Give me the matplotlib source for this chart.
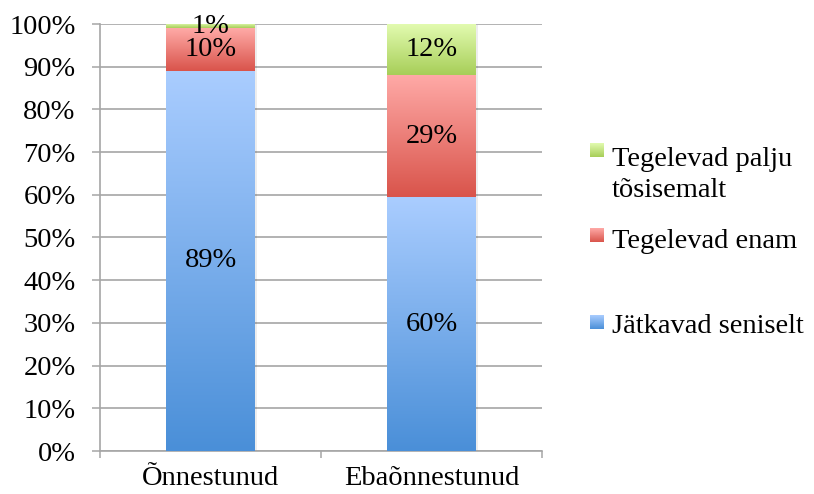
import numpy as np
import matplotlib
matplotlib.use("Agg")
import matplotlib.pyplot as plt
from matplotlib.colors import LinearSegmentedColormap

plt.rcParams['font.family'] = ['Liberation Serif', 'DejaVu Serif']

categories = ["Õnnestunud", "Ebaõnnestunud"]
series_names = ["Jätkavad seniselt", "Tegelevad enam", "Tegelevad palju\ntõsisemalt"]
jatkavad = [89, 60]
enam = [10, 29]
palju = [1, 12]
series_values = [jatkavad, enam, palju]
yticks = [0, 10, 20, 30, 40, 50, 60, 70, 80, 90, 100]
ytick_labels = [f"{v}%" for v in yticks]

# gradient (top colour, bottom colour) per series
grads = [("#AACDFF", "#4A8FD8"), ("#FFAAA7", "#D9544B"), ("#E2FBB0", "#A7CE58")]

FS = 20.5
W, H = 814, 494
fig = plt.figure(figsize=(W / 100, H / 100), dpi=100)
ax = fig.add_axes([100 / W, 1 - 451 / H, 442 / W, (451 - 24) / H])

x = np.arange(len(categories))
totals = np.sum(np.array(series_values, dtype=float), axis=0)
bottoms = np.zeros(len(categories))
grad_img = np.linspace(1, 0, 256).reshape(-1, 1)

# subtle shadow behind the full bars (100% stacked)
ax.bar(x + 0.004, 100, width=0.415, bottom=-0.3, color="#000000", alpha=0.07,
       edgecolor="none", zorder=2)

for vals, (ctop, cbot) in zip(series_values, grads):
    shares = np.array(vals) / totals * 100
    cmap = LinearSegmentedColormap.from_list("g", [cbot, ctop])
    bars = ax.bar(x, shares, width=0.40, bottom=bottoms, color="none", edgecolor="none", zorder=3)
    for rect, v, s, b in zip(bars, vals, shares, bottoms):
        x0, y0 = rect.get_x(), rect.get_y()
        w, h = rect.get_width(), rect.get_height()
        im = ax.imshow(grad_img, cmap=cmap, aspect="auto", extent=(x0, x0 + w, y0, y0 + h),
                       origin="upper", zorder=3, vmin=0, vmax=1)
        im.set_clip_path(rect)
        ax.text(x0 + w / 2, b + s / 2, f"{v}%", ha="center", va="center",
                fontsize=FS, color="black", zorder=5)
    bottoms = bottoms + shares

ax.set_xlim(-0.5, 1.5)
ax.set_ylim(0, 100)
ax.set_yticks(yticks)
ax.set_yticklabels(ytick_labels, fontsize=FS)
ax.set_xticks(x)
ax.set_xticklabels(categories, fontsize=FS)
ax.set_xticks([-0.5, 0.5, 1.5], minor=True)
ax.tick_params(axis="x", which="major", length=0, pad=11)
ax.tick_params(axis="x", which="minor", length=5, width=1.1, color="#A6A6A6", direction="out")
ax.tick_params(axis="y", length=5.5, width=1.1, color="#A6A6A6", direction="out", pad=12)
ax.grid(axis="y", color="#A6A6A6", linewidth=1.2, zorder=0)
ax.set_axisbelow(True)
for s in ["top", "right"]:
    ax.spines[s].set_visible(False)
for s in ["left", "bottom"]:
    ax.spines[s].set_color("#A6A6A6")
    ax.spines[s].set_linewidth(1.2)

# manual legend (pixel coordinates overlay)
lax = fig.add_axes([0, 0, 1, 1], facecolor="none")
lax.axis("off")
leg_items = [(2, 143, 197), (1, 228, 248), (0, 315, 333)]
for idx, sq_top, base in leg_items:
    ctop, cbot = grads[idx]
    cmap = LinearSegmentedColormap.from_list("g", [cbot, ctop])
    lax.imshow(grad_img, cmap=cmap, aspect="auto", extent=(590, 604, sq_top + 14, sq_top),
               origin="upper", vmin=0, vmax=1)
    lax.text(612, base, series_names[idx], fontsize=FS, ha="left", va="baseline",
             linespacing=1.3)
lax.set_xlim(0, W)
lax.set_ylim(H, 0)

fig.savefig("out.png", dpi=100)
